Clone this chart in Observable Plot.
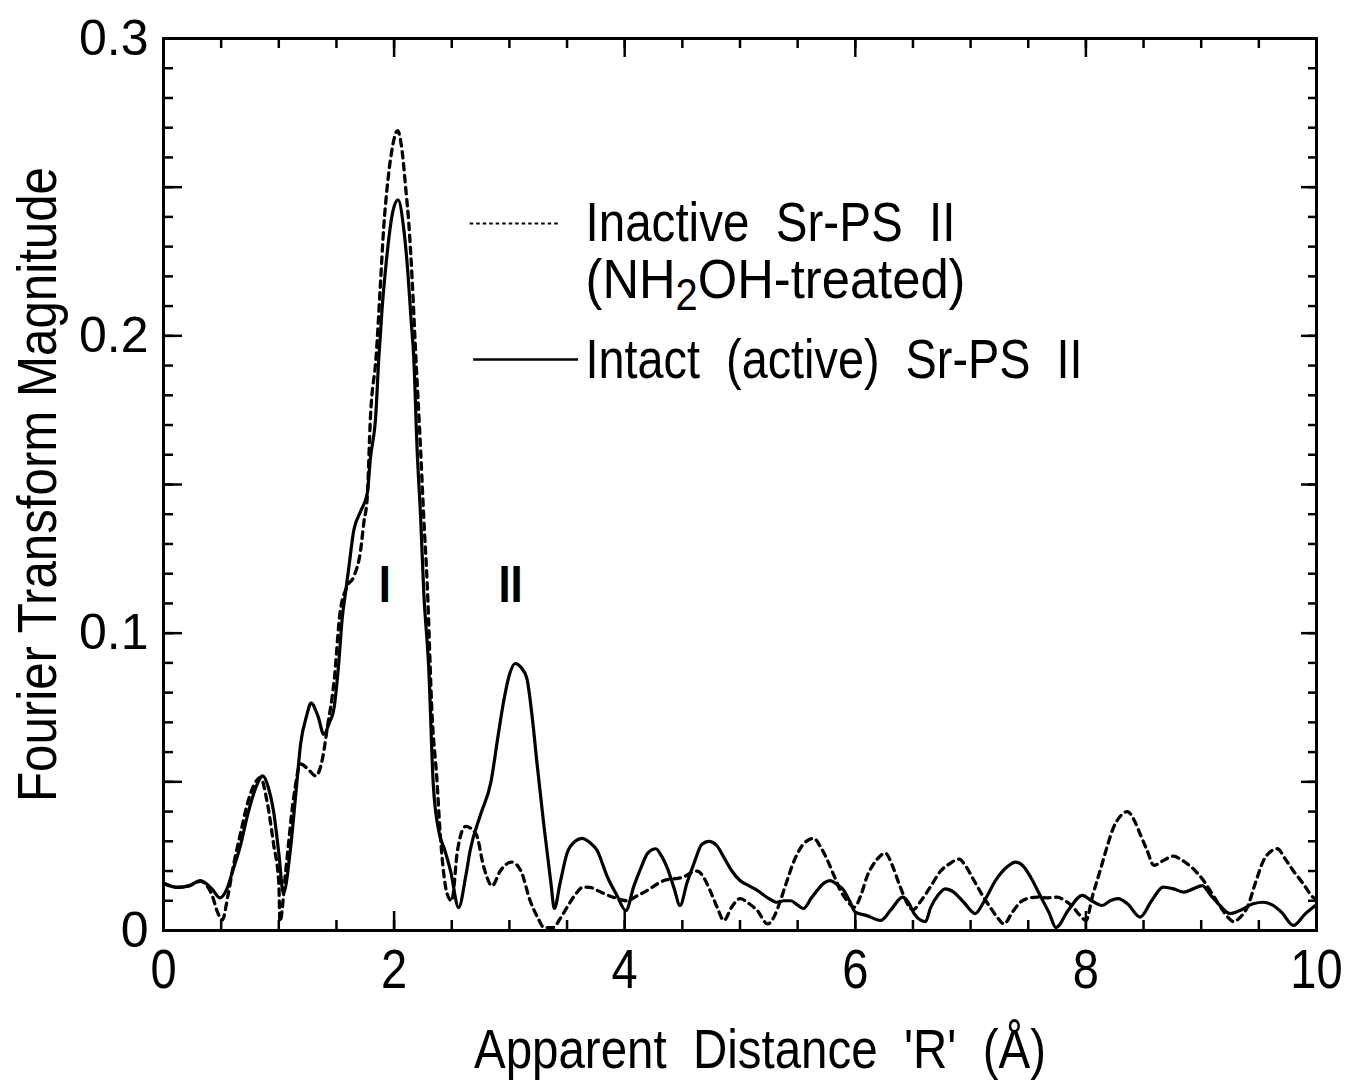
<!DOCTYPE html>
<html>
<head>
<meta charset="utf-8">
<script src="https://cdn.jsdelivr.net/npm/d3@7"></script>
<script src="https://cdn.jsdelivr.net/npm/@observablehq/plot@0.6"></script>
<style>
  html, body { margin: 0; padding: 0; background: #fff; }
  #chart svg { display: block; }
</style>
</head>
<body>
<div id="chart"></div>
<script>
// Apparent distance R (Å) and Fourier transform magnitude for intact (active) Sr-PS II
const intactR = [
  0.00, 0.12, 0.22, 0.32, 0.42, 0.49, 0.55, 0.60, 0.67, 0.73, 0.80, 0.86, 0.91, 0.955, 1.00, 1.04,
  1.10, 1.15, 1.19, 1.24, 1.28, 1.34, 1.39, 1.44, 1.48, 1.52, 1.55, 1.58, 1.607, 1.65, 1.71, 1.767,
  1.795, 1.84, 1.868, 1.897, 1.925, 1.955, 1.99, 2.034, 2.085, 2.12, 2.148, 2.17, 2.20, 2.23, 2.257,
  2.30, 2.34, 2.39, 2.44, 2.49, 2.56, 2.62, 2.66, 2.75, 2.84, 2.90, 2.95, 3.00, 3.05, 3.10, 3.15,
  3.20, 3.24, 3.30, 3.36, 3.39, 3.44, 3.50, 3.57, 3.63, 3.70, 3.76, 3.85, 3.93, 4.01, 4.08, 4.14,
  4.20, 4.27, 4.32, 4.37, 4.43, 4.48, 4.54, 4.60, 4.67, 4.73, 4.80, 4.86, 4.93, 5.00, 5.08, 5.15,
  5.24, 5.32, 5.38, 5.44, 5.50, 5.55, 5.62, 5.67, 5.73, 5.78, 5.84, 5.90, 5.95, 6.00, 6.10, 6.22,
  6.31, 6.41, 6.46, 6.51, 6.57, 6.61, 6.65, 6.72, 6.78, 6.85, 6.94, 7.04, 7.12, 7.22, 7.32, 7.39,
  7.46, 7.52, 7.60, 7.68, 7.74, 7.85, 7.97, 8.05, 8.14, 8.21, 8.28, 8.36, 8.47, 8.57, 8.67, 8.76,
  8.85, 8.93, 9.01, 9.08, 9.16, 9.25, 9.35, 9.45, 9.54, 9.62, 9.70, 9.80, 9.90, 9.99
];
const intactFT = [
  0.0158, 0.0145, 0.0150, 0.0168, 0.0140, 0.0110, 0.0140, 0.0200, 0.0290, 0.0390, 0.0480, 0.0520, 0.0480, 0.0400, 0.0260, 0.0125,
  0.0270, 0.0470, 0.0630, 0.0720, 0.0765, 0.0720, 0.0660, 0.0700, 0.0750, 0.0900, 0.1050, 0.1140, 0.1220, 0.1345, 0.1410, 0.1470,
  0.1590, 0.1727, 0.1930, 0.2097, 0.2220, 0.2330, 0.2420, 0.2457, 0.2355, 0.2210, 0.2050, 0.1930, 0.1615, 0.1390, 0.1140,
  0.0886, 0.0490, 0.0330, 0.0270, 0.0200, 0.0077, 0.0180, 0.0270, 0.0390, 0.0500, 0.0650, 0.0770, 0.0860, 0.0898, 0.0885, 0.0850,
  0.0710, 0.0560, 0.0350, 0.0160, 0.0074, 0.0160, 0.0260, 0.0300, 0.0310, 0.0295, 0.0270, 0.0180, 0.0120, 0.0067, 0.0150, 0.0210,
  0.0260, 0.0275, 0.0250, 0.0210, 0.0140, 0.0084, 0.0160, 0.0225, 0.0290, 0.0300, 0.0285, 0.0246, 0.0200, 0.0168, 0.0150, 0.0135,
  0.0110, 0.0095, 0.0100, 0.0100, 0.0085, 0.0074, 0.0110, 0.0135, 0.0160, 0.0168, 0.0155, 0.0135, 0.0100, 0.0062, 0.0050, 0.0034,
  0.0070, 0.0112, 0.0095, 0.0057, 0.0034, 0.0030, 0.0074, 0.0120, 0.0140, 0.0130, 0.0095, 0.0057, 0.0100, 0.0170, 0.0215, 0.0230,
  0.0215, 0.0180, 0.0120, 0.0060, 0.0010, 0.0070, 0.0118, 0.0100, 0.0084, 0.0100, 0.0107, 0.0090, 0.0045, 0.0100, 0.0146, 0.0140,
  0.0129, 0.0140, 0.0151, 0.0120, 0.0085, 0.0057, 0.0070, 0.0090, 0.0095, 0.0085, 0.0060, 0.0017, 0.0055, 0.0084
];

// Inactive (NH2OH-treated) Sr-PS II
const inactiveR = [
  0.00, 0.12, 0.22, 0.32, 0.42, 0.47, 0.51, 0.56, 0.61, 0.67, 0.73, 0.80, 0.84, 0.90, 0.955, 1.00,
  1.01, 1.06, 1.13, 1.19, 1.26, 1.32, 1.38, 1.42, 1.48, 1.53, 1.59, 1.65, 1.71, 1.737, 1.767, 1.795,
  1.845, 1.88, 1.91, 1.94, 1.975, 2.03, 2.07, 2.10, 2.13, 2.157, 2.186, 2.23, 2.257, 2.287, 2.33, 2.37,
  2.40, 2.46, 2.50, 2.55, 2.62, 2.71, 2.78, 2.85, 2.92, 3.02, 3.10, 3.18, 3.25, 3.30, 3.38, 3.44,
  3.50, 3.57, 3.64, 3.70, 3.76, 3.90, 4.02, 4.10, 4.17, 4.34, 4.51, 4.58, 4.63, 4.69, 4.74, 4.80,
  4.86, 4.93, 5.00, 5.08, 5.15, 5.24, 5.30, 5.35, 5.41, 5.47, 5.56, 5.64, 5.70, 5.76, 5.82, 5.87,
  5.93, 5.99, 6.05, 6.10, 6.18, 6.26, 6.33, 6.39, 6.50, 6.57, 6.65, 6.74, 6.82, 6.90, 6.96, 7.03,
  7.10, 7.17, 7.23, 7.29, 7.36, 7.43, 7.50, 7.58, 7.67, 7.75, 7.82, 7.89, 7.95, 8.00, 8.06, 8.13,
  8.19, 8.24, 8.30, 8.36, 8.42, 8.47, 8.53, 8.59, 8.67, 8.76, 8.82, 8.88, 8.95, 9.02, 9.10, 9.17,
  9.23, 9.28, 9.34, 9.40, 9.47, 9.54, 9.60, 9.66, 9.73, 9.80, 9.88, 9.97, 10.00
];
const inactiveFT = [
  0.0160, 0.0145, 0.0150, 0.0165, 0.0120, 0.0060, 0.0035, 0.0120, 0.0225, 0.0330, 0.0430, 0.0500, 0.0515, 0.0430, 0.0290, 0.0160,
  0.0030, 0.0200, 0.0450, 0.0560, 0.0540, 0.0520, 0.0580, 0.0680, 0.0840, 0.1065, 0.1155, 0.1190, 0.1280, 0.1370, 0.1457, 0.1727,
  0.1935, 0.2164, 0.2365, 0.2500, 0.2610, 0.2690, 0.2620, 0.2500, 0.2365, 0.2186, 0.1950, 0.1615, 0.1390, 0.1167, 0.0720, 0.0515,
  0.0325, 0.0123, 0.0100, 0.0270, 0.0350, 0.0325, 0.0210, 0.0150, 0.0200, 0.0230, 0.0200, 0.0100, 0.0040, 0.0010, 0.0010, 0.0040,
  0.0078, 0.0120, 0.0146, 0.0145, 0.0135, 0.0112, 0.0100, 0.0115, 0.0129, 0.0168, 0.0180, 0.0195, 0.0200, 0.0175, 0.0135, 0.0080,
  0.0034, 0.0080, 0.0107, 0.0090, 0.0067, 0.0022, 0.0050, 0.0100, 0.0170, 0.0235, 0.0295, 0.0310, 0.0280, 0.0235, 0.0180, 0.0135,
  0.0100, 0.0078, 0.0120, 0.0180, 0.0235, 0.0260, 0.0210, 0.0146, 0.0070, 0.0100, 0.0146, 0.0200, 0.0225, 0.0240, 0.0215, 0.0168,
  0.0120, 0.0078, 0.0045, 0.0022, 0.0060, 0.0095, 0.0108, 0.0112, 0.0110, 0.0112, 0.0100, 0.0078, 0.0050, 0.0034, 0.0120, 0.0210,
  0.0290, 0.0347, 0.0385, 0.0400, 0.0370, 0.0325, 0.0270, 0.0219, 0.0235, 0.0250, 0.0240, 0.0224, 0.0200, 0.0168, 0.0120, 0.0078,
  0.0045, 0.0030, 0.0045, 0.0078, 0.0160, 0.0235, 0.0265, 0.0275, 0.0240, 0.0200, 0.0160, 0.0112, 0.0105
];

// Peak labels
const peakNames = ["I", "II"];
const peakR = [1.92, 3.01];
const peakLabelHeight = 0.116;

// Legend entries
const legendNames = ["Inactive\u00a0\u00a0Sr-PS\u00a0\u00a0II", "(NH2OH-treated)", "Intact\u00a0\u00a0(active)\u00a0\u00a0Sr-PS\u00a0\u00a0II"];

// Axis titles and tick values
const xTitle = "Apparent\u00a0\u00a0Distance\u00a0\u00a0'R'\u00a0\u00a0(Å)";
const yTitle = "Fourier Transform Magnitude";
const xTickLabels = [0, 2, 4, 6, 8, 10];
const yTickLabels = [0, 0.1, 0.2, 0.3];

const intact = d3.zip(intactR, intactFT).map(([r, v]) => ({r, v}));
const inactive = d3.zip(inactiveR, inactiveFT).map(([r, v]) => ({r, v}));

const W = 1354, H = 1086;
const M = {left: 163, right: 38, top: 38, bottom: 156};
const innerW = W - M.left - M.right;
const innerH = H - M.top - M.bottom;

const sans = "'Liberation Sans', Arial, Helvetica, sans-serif";

const xMinor = d3.range(0, 10.001, 0.5);
const xMajor = d3.range(0, 10.001, 2);
const yMinor = d3.range(0, 30.001, 1).map(d => d / 100);
const yMajor = d3.range(0, 30.001, 5).map(d => d / 100);

const minorLen = 10, majorLen = 19;

// Inward ticks on all four sides of the frame
const tickMarks = [
  Plot.tickX(xMinor, {x: d => d, insetTop: innerH - minorLen, strokeWidth: 2.5}),
  Plot.tickX(xMajor, {x: d => d, insetTop: innerH - majorLen, strokeWidth: 2.5}),
  Plot.tickX(xMinor, {x: d => d, insetBottom: innerH - minorLen, strokeWidth: 2.5}),
  Plot.tickX(xMajor, {x: d => d, insetBottom: innerH - majorLen, strokeWidth: 2.5}),
  Plot.tickY(yMinor, {y: d => d, insetRight: innerW - minorLen, strokeWidth: 2.5}),
  Plot.tickY(yMajor, {y: d => d, insetRight: innerW - majorLen, strokeWidth: 2.5}),
  Plot.tickY(yMinor, {y: d => d, insetLeft: innerW - 8, strokeWidth: 2.5}),
  Plot.tickY(yMajor, {y: d => d, insetLeft: innerW - 15, strokeWidth: 2.5})
];

const chart = Plot.plot({
  width: W,
  height: H,
  marginLeft: M.left,
  marginRight: M.right,
  marginTop: M.top,
  marginBottom: M.bottom,
  x: {domain: [0, 10]},
  y: {domain: [0, 0.3]},
  style: {fontFamily: sans, background: "white", color: "black"},
  marks: [
    ...tickMarks,
    Plot.line(inactive, {x: "r", y: "v", stroke: "black", strokeWidth: 3.3, strokeDasharray: "6.5,5.5", curve: "monotone-x"}),
    Plot.line(intact, {x: "r", y: "v", stroke: "black", strokeWidth: 3.2, curve: "monotone-x"}),
    Plot.frame({stroke: "black", strokeWidth: 3}),
    Plot.axisX({ticks: xTickLabels, tickSize: 0, tickPadding: 18, fontSize: 56, tickFormat: d => String(d), label: null}),
    Plot.axisY({ticks: yTickLabels, tickSize: 0, tickPadding: 15, fontSize: 50, tickFormat: d => d === 0 ? "0" : d.toFixed(1), label: null}),
    // axis titles
    Plot.text([xTitle], {frameAnchor: "bottom", dx: 20, dy: 137, fontSize: 55}),
    Plot.text([yTitle], {frameAnchor: "left", textAnchor: "middle", dx: -125, rotate: -90, fontSize: 56}),
    // peak labels
    Plot.text(peakNames, {x: (d, i) => peakR[i], y: () => peakLabelHeight, fontSize: 52, fontWeight: 900}),
    // legend
    Plot.ruleY([0.2378], {x1: 2.66, x2: 3.44, stroke: "black", strokeWidth: 2, strokeDasharray: "3.5,3"}),
    Plot.ruleY([0.192], {x1: 2.69, x2: 3.6, stroke: "black", strokeWidth: 2.5}),
    Plot.text(legendNames, {
      x: 3.66,
      y: (d, i) => [0.2378, 0.2186, 0.192][i],
      textAnchor: "start",
      fontSize: 56
    })
  ]
});

// Subscript in the NH2OH legend line
const svg = d3.select(chart);
svg.selectAll("text").filter(function() { return this.textContent === "(NH2OH-treated)"; })
  .each(function() {
    const t = d3.select(this);
    t.text(null);
    t.append("tspan").text("(NH");
    t.append("tspan").attr("dy", 12).attr("font-size", 44).attr("fill", "black").text("2");
    t.append("tspan").attr("dy", -12).text("OH-treated)");
  });

document.getElementById("chart").appendChild(chart);

// Condensed lettering: fixed run lengths for titles and legend, narrowed tick numerals
const runLength = new Map([
  [xTitle, 572],
  [yTitle, 635],
  [legendNames[0], 370],
  ["(NH2OH-treated)", 380],
  [legendNames[2], 497]
]);
svg.selectAll("text").each(function() {
  const label = this.textContent;
  const group = this.closest("g");
  const inYAxis = group && group.getAttribute("aria-label") === "y-axis tick label";
  if (inYAxis) return;
  const len = runLength.has(label) ? runLength.get(label) : this.getComputedTextLength() * 0.84;
  d3.select(this).attr("textLength", len).attr("lengthAdjust", "spacingAndGlyphs");
});
</script>
</body>
</html>
